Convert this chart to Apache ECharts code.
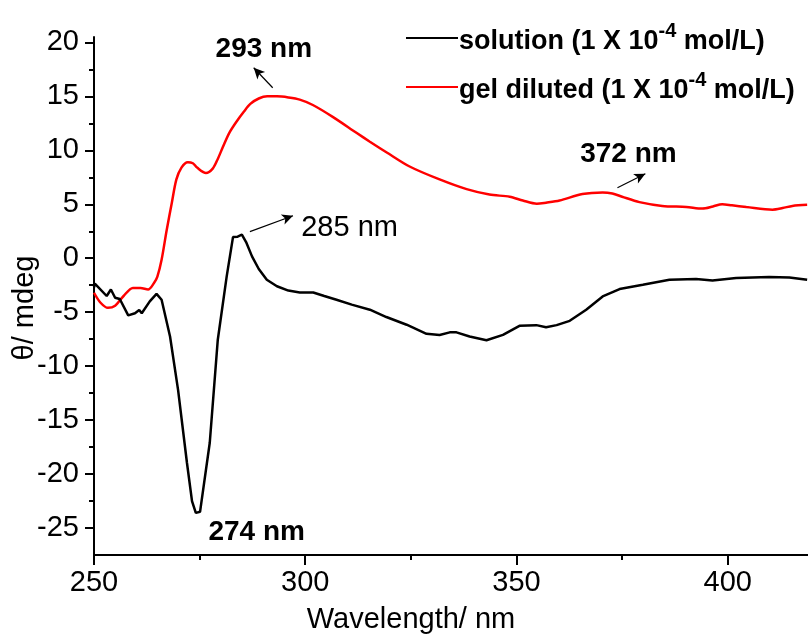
<!DOCTYPE html>
<html>
<head>
<meta charset="utf-8">
<script src="https://cdn.jsdelivr.net/npm/echarts@6/dist/echarts.min.js"></script>
<style>
  html, body { margin: 0; padding: 0; background: #fff; }
  #main { width: 808px; height: 639px; }
</style>
</head>
<body>
<div id="main"></div>
<script>
// CD spectra
var solutionWl = [250, 250.2, 253, 254, 255, 256.1, 258.1, 259.7, 260.7, 261.3, 263.2, 264.8, 266,
    268, 269.9, 272, 273.2, 274.1, 275.1, 277.4, 279.3, 281.4, 282.9, 284, 285, 286, 287.4, 289,
    290.9, 293.3, 296, 298.7, 301.9, 304.5, 307.4, 311, 315.3, 319.2, 324, 328.7, 331.8, 334.2,
    335.8, 338.9, 342.9, 346.8, 350.7, 354.7, 357, 359.5, 362.6, 366.5, 370.4, 374.4, 379.9,
    386.2, 392.5, 396.4, 402, 409.8, 414.6, 418.8];
var solutionTheta = [-2.7, -2.36, -3.5, -2.9, -3.66, -3.78, -5.3, -5.1, -4.8, -5.1, -4.0, -3.3, -3.85,
    -7.25, -12.2, -18.95, -22.5, -23.6, -23.5, -17.1, -7.55, -1.7, 1.96, 2.0, 2.18, 1.5, 0.17, -1.0,
    -2.0, -2.6, -3.0, -3.17, -3.17, -3.5, -3.85, -4.3, -4.77, -5.45, -6.16, -7.0, -7.12, -6.87,
    -6.87, -7.25, -7.6, -7.1, -6.26, -6.2, -6.4, -6.2, -5.8, -4.77, -3.54, -2.86, -2.46,
    -1.99, -1.93, -2.06, -1.84, -1.74, -1.78, -2.0];

var gelWl = [250, 251.5, 253.3, 255, 257, 259.2, 261, 262.8, 264.2, 265, 266, 267.2, 268.4, 269.5,
    270.7, 272.2, 273.4, 274.4, 276.5, 278.1, 279.3, 280.5, 282, 283.8, 285.5, 287, 289, 291, 293.3,
    296, 298.7, 301.8, 306.5, 312.2, 315.3, 319.3, 324.7, 331.8, 338.2, 343.6, 348.4, 351.5, 354.8,
    357, 360.2, 365.6, 370.4, 372.7, 375, 379.1, 384.5, 390.2, 394, 396.5, 398.7, 401, 404.4,
    410.6, 413, 415.3, 418.8];
var gelTheta = [-3.2, -4.1, -4.6, -4.4, -3.5, -2.75, -2.75, -2.9, -2.3, -1.7, -0.14, 2.6, 5.1, 7.3,
    8.4, 8.9, 8.8, 8.4, 7.9, 8.3, 9.2, 10.3, 11.6, 12.7, 13.6, 14.3, 14.8, 15.0, 15.0,
    14.9, 14.7, 14.2, 13.1, 11.6, 10.8, 9.8, 8.5, 7.3, 6.4, 5.9, 5.7, 5.35, 5.05,
    5.15, 5.35, 5.95, 6.1, 6.0, 5.7, 5.2, 4.85, 4.75, 4.6, 4.8, 5.0, 4.9, 4.75,
    4.5, 4.65, 4.85, 4.95];

var xMajor = [250, 300, 350, 400];
var xMinor = [275, 325, 375];
var yMajor = [-25, -20, -15, -10, -5, 0, 5, 10, 15, 20];
var yMinor = [-22.5, -17.5, -12.5, -7.5, -2.5, 2.5, 7.5, 12.5, 17.5];

// peak labels and arrows (data coordinates)
var peakLabels = [
    { text: '293 nm', at: [290.2, 19.4], bold: true },
    { text: '285 nm', at: [310.5, 2.83], bold: false },
    { text: '274 nm', at: [288.5, -25.35], bold: true },
    { text: '372 nm', at: [376.5, 9.6], bold: true }
];
var peakArrows = [
    [[292.3, 15.8], [287.8, 17.65]],
    [[286.9, 2.46], [297.1, 3.94]],
    [[373.9, 6.53], [380.5, 7.83]]
];

var legendText = {
    'solution': '{b|solution (1 X 10}{s|-4}{b| mol/L)}',
    'gel diluted': '{b|gel diluted (1 X 10}{s|-4}{b| mol/L)}'
};

function zip(a, b) {
    var out = [];
    for (var i = 0; i < a.length; i++) out.push([a[i], b[i]]);
    return out;
}

var FONT = 'Liberation Sans, Arial, sans-serif';
var legendRich = {
    b: { fontFamily: FONT, fontSize: 27, fontWeight: 'bold', color: '#000', lineHeight: 34, verticalAlign: 'bottom' },
    s: { fontFamily: FONT, fontSize: 20, fontWeight: 'bold', color: '#000', lineHeight: 34, verticalAlign: 'top' }
};

function legendFor(name, top) {
    return {
        data: [name],
        left: 406,
        top: top,
        padding: 0,
        icon: 'rect',
        itemWidth: 52,
        itemHeight: 2,
        itemGap: 0,
        formatter: function (n) { return legendText[n]; },
        textStyle: { padding: [0, 0, 0, -4], rich: legendRich }
    };
}

var myChart = echarts.init(document.getElementById('main'));

myChart.setOption({
    animation: false,
    backgroundColor: '#fff',
    grid: { left: 94, right: 0, top: 37, bottom: 84, outerBoundsMode: 'none', containLabel: false },
    legend: [legendFor('solution', 21), legendFor('gel diluted', 70)],
    xAxis: [
        {
            type: 'value', min: 250, max: 419,
            axisLine: { show: true, onZero: false, lineStyle: { color: '#000', width: 2 } },
            axisTick: { show: true, customValues: xMajor, length: 10, lineStyle: { color: '#000', width: 2 } },
            axisLabel: { customValues: xMajor, color: '#000', fontSize: 29, fontFamily: FONT, margin: 13 },
            splitLine: { show: false },
            name: 'Wavelength/ nm',
            nameLocation: 'middle',
            nameGap: 50,
            nameMoveOverlap: false,
            nameTextStyle: { color: '#000', fontSize: 29, fontFamily: FONT, padding: [0, 80, 0, 0] }
        },
        {
            type: 'value', min: 250, max: 419, position: 'bottom',
            axisLine: { show: false, onZero: false },
            axisTick: { show: true, customValues: xMinor, length: 5, lineStyle: { color: '#000', width: 2 } },
            axisLabel: { show: false },
            splitLine: { show: false }
        }
    ],
    yAxis: [
        {
            type: 'value', min: -27.5, max: 20.5,
            axisLine: { show: true, onZero: false, lineStyle: { color: '#000', width: 2 } },
            axisTick: { show: true, customValues: yMajor, length: 9, lineStyle: { color: '#000', width: 2 } },
            axisLabel: { customValues: yMajor, color: '#000', fontSize: 29, fontFamily: FONT, margin: 15 },
            splitLine: { show: false },
            name: 'θ/ mdeg',
            nameLocation: 'middle',
            nameGap: 55,
            nameMoveOverlap: false,
            nameTextStyle: { color: '#000', fontSize: 29, fontFamily: FONT, padding: [0, 24, 0, 0] }
        },
        {
            type: 'value', min: -27.5, max: 20.5, position: 'left',
            axisLine: { show: false, onZero: false },
            axisTick: { show: true, customValues: yMinor, length: 5, lineStyle: { color: '#000', width: 2 } },
            axisLabel: { show: false },
            splitLine: { show: false }
        }
    ],
    series: [
        {
            name: 'solution',
            type: 'line',
            data: zip(solutionWl, solutionTheta),
            symbol: 'none',
            color: '#000',
            lineStyle: { color: '#000', width: 2.5 },
            z: 3,
            markPoint: {
                silent: true,
                symbol: 'circle',
                symbolSize: 1,
                itemStyle: { color: 'rgba(0,0,0,0)' },
                data: peakLabels.map(function (p) {
                    return {
                        name: p.text,
                        coord: p.at,
                        label: {
                            show: true, position: 'inside', formatter: '{b}',
                            color: '#000', fontFamily: FONT,
                            fontSize: p.bold ? 28 : 29,
                            fontWeight: p.bold ? 'bold' : 'normal'
                        }
                    };
                })
            },
            markLine: {
                silent: true,
                symbol: ['none', 'arrow'],
                symbolSize: [8, 11],
                lineStyle: { color: '#000', width: 1.2, type: 'solid' },
                label: { show: false },
                data: peakArrows.map(function (a) {
                    return [{ coord: a[0] }, { coord: a[1] }];
                })
            }
        },
        {
            name: 'gel diluted',
            type: 'line',
            data: zip(gelWl, gelTheta),
            symbol: 'none',
            smooth: 0.3,
            color: '#ff0000',
            lineStyle: { color: '#ff0000', width: 2.5 },
            z: 2
        }
    ]
});
</script>
</body>
</html>
